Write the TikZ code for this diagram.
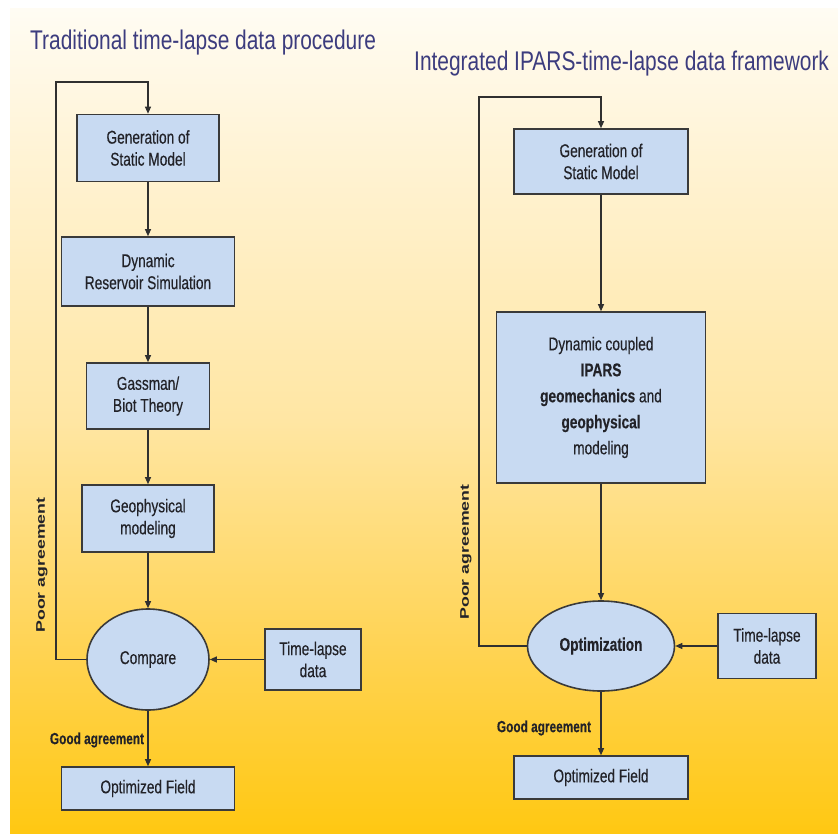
\documentclass[tikz,border=0pt]{standalone}
\usepackage{fontspec}
\setmainfont{Liberation Sans}
\newfontfamily\headfont{Liberation Sans}[FakeStretch=0.775]
\newfontfamily\narrowfont{Liberation Sans}[FakeStretch=0.74,FakeBold=0.3]
\newfontfamily\widefont{Liberation Sans}[FakeStretch=1.42]
\usetikzlibrary{shapes.geometric,arrows.meta}

\definecolor{bgTop}{HTML}{FFFCF3}
\definecolor{bgA}{HTML}{FFF3D4}
\definecolor{bgB}{HTML}{FFE6A3}
\definecolor{bgC}{HTML}{FFD352}
\definecolor{bgD}{HTML}{FFC812}
\definecolor{boxfill}{HTML}{C8DAF2}
\definecolor{boxline}{HTML}{3A3A3A}
\definecolor{boxtext}{HTML}{222228}
\definecolor{lineclr}{HTML}{303030}
\definecolor{titleblue}{HTML}{3C3C7E}

% background fade: cream at the top, warm yellow at the bottom
\pgfdeclareverticalshading{bgfade}{100bp}{%
  color(0bp)=(bgD); color(25bp)=(bgD); color(36bp)=(bgC);
  color(50bp)=(bgB); color(66bp)=(bgA); color(75bp)=(bgTop);
  color(100bp)=(bgTop)}

\tikzset{
  box/.style={draw=boxline, line width=1.6pt, fill=boxfill, text=boxtext,
    font=\narrowfont\fontsize{18.5}{22}\selectfont, align=center, inner sep=0pt},
  oval/.style={box, ellipse},
  conn/.style={draw=lineclr, line width=1.1pt},
  arr/.style={conn, -{Triangle[length=7pt,width=6pt]}},
  heading/.style={font=\headfont\fontsize{27}{30}\selectfont, text=titleblue,
    anchor=base west, inner sep=0pt},
  goodlbl/.style={font=\narrowfont\bfseries\fontsize{16}{18}\selectfont, text=boxtext, inner sep=0pt},
  poorlbl/.style={font=\widefont\bfseries\fontsize{12.5}{15}\selectfont, text=boxtext,
    inner sep=0pt, rotate=90}
}

\begin{document}
\begin{tikzpicture}[x=1pt,y=-1pt]
\useasboundingbox (0,0) rectangle (838,837);
\fill[white] (0,0) rectangle (838,837);
\shade[shading=bgfade] (10,9) rectangle (838,833);

% ---------- left column: traditional procedure ----------
\node[heading] (titleL) at (30,50) {Traditional time-lapse data procedure};

\node[box, minimum width=142pt, minimum height=67pt] (g1) at (148,148) {Generation of\\Static Model};
\node[box, minimum width=173pt, minimum height=69pt] (d1) at (148,271.5) {Dynamic\\Reservoir Simulation};
\node[box, minimum width=123pt, minimum height=66pt] (b1) at (148,396) {Gassman/\\Biot Theory};
\node[box, minimum width=132pt, minimum height=67pt] (p1) at (148,518.5) {Geophysical\\modeling};
\node[oval, minimum width=122pt, minimum height=101pt] (c1) at (148,659.5) {Compare};
\node[box, minimum width=96pt, minimum height=61pt] (t1) at (313,659.5) {Time-lapse\\data};
\node[box, minimum width=173pt, minimum height=43pt] (o1) at (148,788.5) {Optimized Field};

\coordinate (fbL) at (56,82);

\draw[arr] (g1) -- (d1);
\draw[arr] (d1) -- (b1);
\draw[arr] (b1) -- (p1);
\draw[arr] (p1) -- (c1);
\draw[arr] (t1) -- (c1);
\draw[arr] (c1) -- (o1);
\draw[arr] (c1.west) -| (fbL) -| (g1.north);

\node[poorlbl] (poorL) at (42,565) {Poor agreement};
\node[goodlbl] (goodL) at (97,740) {Good agreement};

% ---------- right column: integrated framework ----------
\node[heading] (titleR) at (414,71) {Integrated IPARS-time-lapse data framework};

\node[box, minimum width=174pt, minimum height=65pt] (g2) at (601,161.5) {Generation of\\Static Model};
\node[box, minimum width=209pt, minimum height=171pt, font=\narrowfont\fontsize{18.5}{26}\selectfont] (m2) at (601,397.5)
  {Dynamic coupled\\\textbf{IPARS}\\\textbf{geomechanics} and\\\textbf{geophysical}\\modeling};
\node[oval, minimum width=147pt, minimum height=90pt, font=\narrowfont\bfseries\fontsize{18.5}{22}\selectfont] (e2) at (601,646) {Optimization};
\node[box, minimum width=98pt, minimum height=65pt] (t2) at (767,646) {Time-lapse\\data};
\node[box, minimum width=174pt, minimum height=43pt] (o2) at (601,777.5) {Optimized Field};

\coordinate (fbR) at (479,97);

\draw[arr] (g2) -- (m2);
\draw[arr] (m2) -- (e2);
\draw[arr] (t2) -- (e2);
\draw[arr] (e2) -- (o2);
\draw[arr] (e2.west) -| (fbR) -| (g2.north);

\node[poorlbl] (poorR) at (466,552) {Poor agreement};
\node[goodlbl] (goodR) at (544,728) {Good agreement};
\end{tikzpicture}
\end{document}
